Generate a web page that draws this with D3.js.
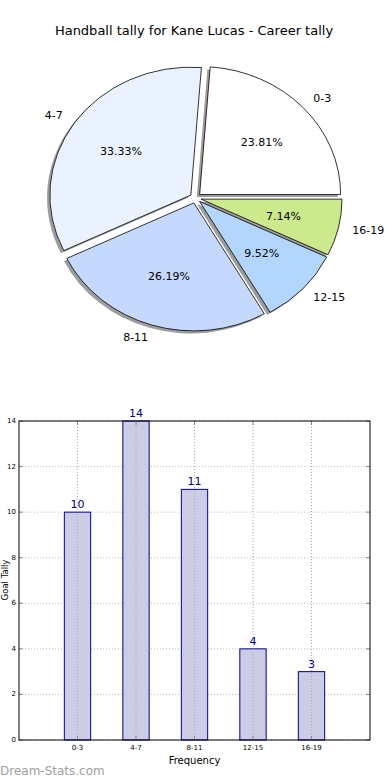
<!DOCTYPE html>
<html><head><meta charset="utf-8">
<script src="https://cdn.jsdelivr.net/npm/d3@7"></script>
<style>body{margin:0;background:#fff}svg{display:block;font-family:"DejaVu Sans",sans-serif}</style>
</head><body>
<svg id="c" width="390" height="780"></svg>
<script>
const title = "Handball tally for Kane Lucas - Career tally";
const categories = ["0-3","4-7","8-11","12-15","16-19"];
const values = [10,14,11,4,3];
const pieColors = ["#ffffff","#eaf2ff","#c5d9ff","#b3d6ff","#ccea8c"];
const yTicks = [0,2,4,6,8,10,12,14];
const xLabel = "Frequency";
const yLabel = "Goal Tally";

const svg = d3.select("#c");
svg.append("rect").attr("width",390).attr("height",780).attr("fill","#fff");
svg.append("text").attr("x",194).attr("y",35).attr("text-anchor","middle")
  .attr("font-size",13).attr("fill","#000").text(title);

// ---- Pie ----
const cx = 195.5, cy = 198, rx = 141, ry = 128, ex = 0.04;
const total = d3.sum(values);
const pie = d3.pie().sort(null).startAngle(Math.PI/2).endAngle(Math.PI/2 - 2*Math.PI);
const arcs = pie(values);
const arc = d3.arc().innerRadius(0).outerRadius(1);
const pg = svg.append("g").attr("transform",`translate(${cx},${cy}) scale(${rx},${ry})`);
arcs.forEach((a,i)=>{
  const m = (a.startAngle + a.endAngle)/2;
  const ox = ex*Math.sin(m), oy = -ex*Math.cos(m);
  pg.append("path").attr("d",arc(a))
    .attr("transform",`translate(${ox-0.02},${oy+0.02})`)
    .attr("fill","#8c8c8c").attr("opacity",0.85);
});
arcs.forEach((a,i)=>{
  const m = (a.startAngle + a.endAngle)/2;
  const ox = ex*Math.sin(m), oy = -ex*Math.cos(m);
  pg.append("path").attr("d",arc(a))
    .attr("transform",`translate(${ox},${oy})`)
    .attr("fill",pieColors[i]).attr("stroke","#000").attr("stroke-width",0.8)
    .attr("vector-effect","non-scaling-stroke").attr("stroke-linejoin","round");
});
arcs.forEach((a,i)=>{
  const m = (a.startAngle + a.endAngle)/2;
  const s = Math.sin(m), c = -Math.cos(m);
  svg.append("text").attr("x",cx + rx*(ex+1.1)*s).attr("y",cy + ry*(ex+1.1)*c)
    .attr("text-anchor", s>0 ? "start":"end").attr("dominant-baseline","central")
    .attr("font-size",11).text(categories[i]);
  svg.append("text").attr("x",cx + rx*(ex+0.6)*s).attr("y",cy + ry*(ex+0.6)*c)
    .attr("text-anchor","middle").attr("dominant-baseline","central")
    .attr("font-size",11).text((values[i]/total*100).toFixed(2)+"%");
});

// ---- Bar chart ----
const L = 19, R = 370, T = 421, B = 740;
const x = d3.scaleLinear().domain([-1, categories.length]).range([L,R]);
const y = d3.scaleLinear().domain([0,14]).range([B,T]);
const bw = (x(1)-x(0))*0.45;
const g = svg.append("g");
g.selectAll(".gy").data(yTicks).join("line")
  .attr("x1",L).attr("x2",R).attr("y1",d=>y(d)).attr("y2",d=>y(d))
  .attr("stroke","#bbb").attr("stroke-width",1).attr("stroke-dasharray","1,2");
g.selectAll(".bar").data(values).join("rect")
  .attr("x",(d,i)=>x(i)-bw/2).attr("width",bw)
  .attr("y",d=>y(d)).attr("height",d=>B-y(d))
  .attr("fill","#ccccE6").attr("stroke","#00008b").attr("stroke-width",1);
g.selectAll(".gx").data(categories).join("line")
  .attr("x1",(d,i)=>x(i)).attr("x2",(d,i)=>x(i)).attr("y1",T).attr("y2",B)
  .attr("stroke","#aaa").attr("stroke-width",1).attr("stroke-dasharray","1,2");
g.selectAll(".vl").data(values).join("text")
  .attr("x",(d,i)=>x(i)).attr("y",d=>y(d)-4).attr("text-anchor","middle")
  .attr("font-size",11).attr("fill","#00008b").text(d=>d);
const tk = g.append("g").attr("stroke","#888").attr("stroke-width",1);
yTicks.forEach(t=>{
  tk.append("line").attr("x1",L).attr("x2",L+4).attr("y1",y(t)).attr("y2",y(t));
  tk.append("line").attr("x1",R-4).attr("x2",R).attr("y1",y(t)).attr("y2",y(t));
});
categories.forEach((c,i)=>{
  tk.append("line").attr("x1",x(i)).attr("x2",x(i)).attr("y1",B).attr("y2",B-4);
  tk.append("line").attr("x1",x(i)).attr("x2",x(i)).attr("y1",T).attr("y2",T+4);
});
g.append("rect").attr("x",L).attr("y",T).attr("width",R-L).attr("height",B-T)
  .attr("fill","none").attr("stroke","#000").attr("stroke-width",1);
g.selectAll(".yl").data(yTicks).join("text")
  .attr("x",L-3).attr("y",d=>y(d)).attr("text-anchor","end").attr("dominant-baseline","central")
  .attr("font-size",7).text(d=>d);
g.selectAll(".xl").data(categories).join("text")
  .attr("x",(d,i)=>x(i)).attr("y",B+10).attr("text-anchor","middle")
  .attr("font-size",7).text(d=>d);
svg.append("text").attr("x",(L+R)/2).attr("y",764).attr("text-anchor","middle")
  .attr("font-size",10).text(xLabel);
svg.append("text").attr("transform",`translate(5,580) rotate(-90)`)
  .attr("text-anchor","middle").attr("dominant-baseline","central").attr("font-size",8.5).text(yLabel);
svg.append("text").attr("x",0).attr("y",775).attr("font-size",12)
  .attr("fill","#a0a0a0").text("Dream-Stats.com");
</script>
</body></html>
